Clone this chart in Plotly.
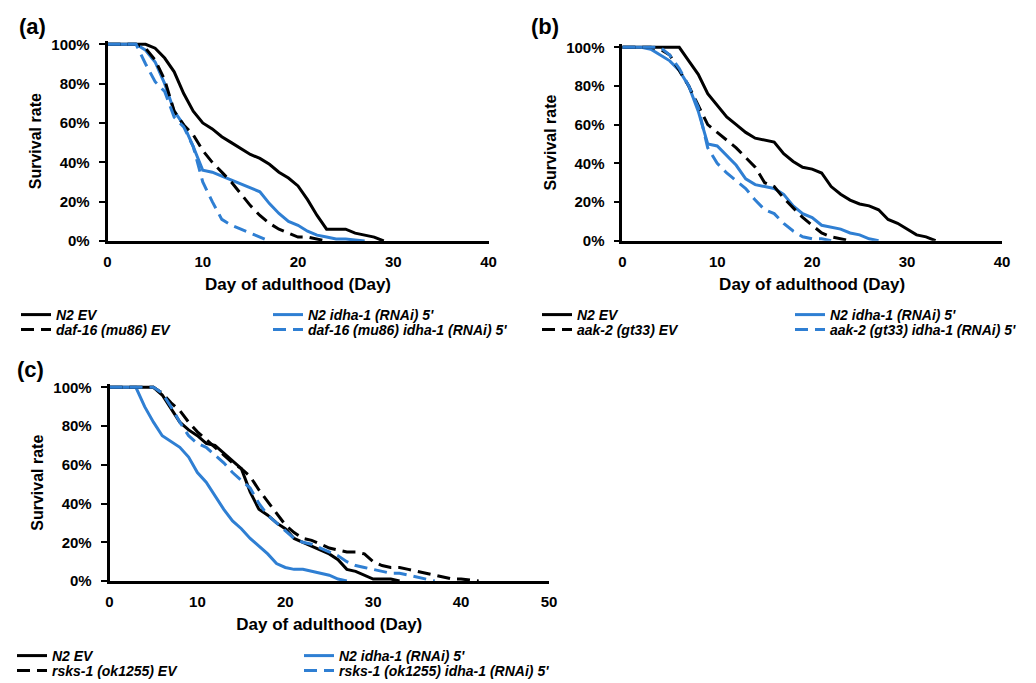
import plotly.graph_objects as go

# ---------------- data ----------------
DAYS = [0, 1, 2, 3, 4, 5, 6, 7, 8, 9, 10, 11, 12, 13, 14, 15, 16, 17, 18, 19, 20,
        21, 22, 23, 24, 25, 26, 27, 28, 29, 30, 31, 32, 33, 34, 35, 36, 37, 38, 39,
        40, 41, 42]

# panel (a)
a_n2_ev = [100, 100, 100, 100, 100, 98, 93, 86, 75, 66, 60, 57, 53, 50, 47, 44, 42, 39,
           35, 32, 28, 21, 13, 6, 6, 6, 4, 3, 2, 0]
a_n2_idha = [100, 100, 100, 100, 97, 91, 80, 66, 59, 48, 36, 35, 33, 31, 29, 27, 25, 19,
             14, 10, 8, 5, 3, 2, 1, 1, 0.5, 0]
a_mut_ev = [100, 100, 100, 100, 98, 92, 82, 66, 59, 54, 46, 40, 35, 30, 24, 18, 13, 9,
            6, 4, 2, 2, 1, 0]
a_mut_idha = [100, 100, 100, 100, 90, 81, 76, 63, 58, 48, 30, 20, 11, 8, 6, 4, 2, 0]

# panel (b)
b_n2_ev = [100, 100, 100, 100, 100, 100, 100, 93, 86, 76, 70, 64, 60, 56, 53, 52, 51, 45,
           41, 38, 37, 35, 28, 24, 21, 19, 18, 16, 11, 9, 6, 3, 2, 0]
b_n2_idha = [100, 100, 100, 99, 96, 93, 88, 80, 67, 50, 49, 44, 39, 32, 29, 28, 27, 24,
             18, 14, 12, 8, 7, 6, 4, 3, 1, 0]
b_mut_ev = [100, 100, 100, 100, 99, 96, 88, 80, 70, 60, 56, 52, 48, 43, 38, 30, 28, 22,
            17, 12, 8, 4, 2, 1, 0]
b_mut_idha = [100, 100, 100, 100, 100, 96, 89, 80, 69, 48, 40, 35, 31, 27, 21, 16, 14, 9,
              5, 2, 1, 1, 0]

# panel (c)
c_n2_ev = [100, 100, 100, 100, 100, 100, 96, 89, 82, 78, 75, 71, 70, 66, 62, 58, 46, 37,
           34, 30, 27, 22, 20, 18, 16, 14, 11, 6, 5, 3, 1, 1, 1, 0]
c_n2_idha = [100, 100, 100, 100, 90, 82, 75, 72, 69, 64, 56, 51, 44, 37, 31, 27, 22, 18,
             14, 9, 7, 6, 6, 5, 4, 3, 1, 0]
c_mut_ev = [100, 100, 100, 100, 100, 100, 97, 92, 88, 82, 77, 73, 69, 65, 61, 58, 54, 47,
            41, 35, 29, 25, 22, 21, 19, 17, 16, 15, 15, 14, 10, 8, 7, 7, 6, 5, 4, 3, 2, 1,
            1, 0.5, 0]
c_mut_idha = [100, 100, 100, 100, 100, 100, 97, 90, 82, 75, 71, 69, 65, 61, 56, 52, 48, 40,
              34, 30, 26, 22, 20, 19, 17, 15, 13, 10, 8, 7, 6, 5, 4, 4, 3, 2, 1, 0]

Y_TICKS = [0, 20, 40, 60, 80, 100]
Y_TICK_LABELS = ["0%", "20%", "40%", "60%", "80%", "100%"]
X_TICKS_AB = [0, 10, 20, 30, 40]
X_TICKS_C = [0, 10, 20, 30, 40, 50]

PANEL_LABELS = ["(a)", "(b)", "(c)"]
NAMES = {
    "a": ["N2 EV", "N2 idha-1 (RNAi) 5'", "daf-16 (mu86) EV", "daf-16 (mu86) idha-1 (RNAi) 5'"],
    "b": ["N2 EV", "N2 idha-1 (RNAi) 5'", "aak-2 (gt33) EV", "aak-2 (gt33) idha-1 (RNAi) 5'"],
    "c": ["N2 EV", "N2 idha-1 (RNAi) 5'", "rsks-1 (ok1255) EV", "rsks-1 (ok1255) idha-1 (RNAi) 5'"],
}
X_TITLE = "Day of adulthood (Day)"
Y_TITLE = "Survival rate"

# ---------------- styling ----------------
W, H = 1036, 683
PAGE_OFFSET = 8  # the page body adds an 8px margin around the figure
BLACK = "#000000"
BLUE = "#2F7FD3"
FONT = "Liberation Sans"
DASH = "13px,7px"


def px_x(p):
    return (p - PAGE_OFFSET) / W


def px_y(p):
    return 1 - (p - PAGE_OFFSET) / H


panels = {
    "a": dict(x0=107.5, x1=488.5, xmax=40, y0=241.0, y100=44.3, ticks=X_TICKS_AB),
    "b": dict(x0=622.3, x1=1002.0, xmax=40, y0=240.7, y100=47.3, ticks=X_TICKS_AB),
    "c": dict(x0=109.5, x1=549.0, xmax=50, y0=581.0, y100=387.3, ticks=X_TICKS_C),
}
YTOP = 101.5

series = {
    "a": [a_n2_ev, a_n2_idha, a_mut_ev, a_mut_idha],
    "b": [b_n2_ev, b_n2_idha, b_mut_ev, b_mut_idha],
    "c": [c_n2_ev, c_n2_idha, c_mut_ev, c_mut_idha],
}
styles = [(BLACK, "solid"), (BLUE, "solid"), (BLACK, DASH), (BLUE, DASH)]

leg_cols = {"a": (57, 309), "b": (578, 831), "c": (53, 340)}
leg_rows = {"a": (315, 330), "b": (315, 330), "c": (656, 671)}

fig = go.Figure()
layout = dict(
    width=W, height=H,
    margin=dict(l=0, r=0, t=0, b=0, autoexpand=False),
    paper_bgcolor="white", plot_bgcolor="white",
    showlegend=True,
    annotations=[],
)

leg_idx = 0
for k, key in enumerate(["a", "b", "c"]):
    g = panels[key]
    ax = "" if k == 0 else str(k + 1)
    xa, ya = "x" + ax, "y" + ax
    per = (g["y0"] - g["y100"]) / 100.0
    ytop_px = g["y0"] - YTOP * per
    layout["xaxis" + ax] = dict(
        domain=[px_x(g["x0"]), px_x(g["x1"])], range=[0, g["xmax"]], anchor=ya,
        showline=True, linecolor=BLACK, linewidth=2.6, showgrid=False, zeroline=False,
        ticks="", tickvals=g["ticks"], ticklabelstandoff=5, automargin=False,
        tickfont=dict(family=FONT, size=15, color=BLACK, weight="bold"),
        title=dict(text=X_TITLE, standoff=10,
                   font=dict(family=FONT, size=17, color=BLACK, weight="bold")),
        fixedrange=True,
    )
    layout["yaxis" + ax] = dict(
        domain=[px_y(g["y0"]), px_y(ytop_px)], range=[0, YTOP], anchor=xa,
        showline=True, linecolor=BLACK, linewidth=2.6, showgrid=False, zeroline=False,
        ticks="outside", ticklen=6, tickwidth=2, tickcolor=BLACK,
        tickvals=Y_TICKS, ticktext=Y_TICK_LABELS, ticklabelstandoff=6, automargin=False,
        tickfont=dict(family=FONT, size=15, color=BLACK, weight="bold"),
        title=dict(text=Y_TITLE, standoff=6,
                   font=dict(family=FONT, size=16, color=BLACK, weight="bold")),
        fixedrange=True,
    )
    lab_pos = {"a": (32, 27), "b": (545, 26), "c": (30, 369)}[key]
    layout["annotations"].append(dict(
        text=PANEL_LABELS[k], x=px_x(lab_pos[0]), y=px_y(lab_pos[1]),
        xref="paper", yref="paper", xanchor="center", yanchor="middle",
        showarrow=False, font=dict(family=FONT, size=22, color=BLACK, weight="bold"),
    ))
    for j, vals in enumerate(series[key]):
        color, dash = styles[j]
        leg_idx += 1
        lname = "legend" if leg_idx == 1 else "legend%d" % leg_idx
        col = j % 2
        row = j // 2
        fig.add_trace(go.Scatter(
            x=DAYS[:len(vals)], y=vals, mode="lines", name=NAMES[key][j],
            line=dict(color=color, width=3, dash=dash),
            xaxis=xa, yaxis=ya, legend=lname, hoverinfo="skip",
        ))
        layout[lname] = dict(
            x=px_x(leg_cols[key][col] - 41), y=px_y(leg_rows[key][row]),
            xanchor="left", yanchor="middle", orientation="v",
            bgcolor="rgba(0,0,0,0)", borderwidth=0, itemwidth=30,
            font=dict(family=FONT, size=14, color=BLACK, weight="bold", style="italic"),
        )

fig.update_layout(**layout)
fig.write_html("out.html")
